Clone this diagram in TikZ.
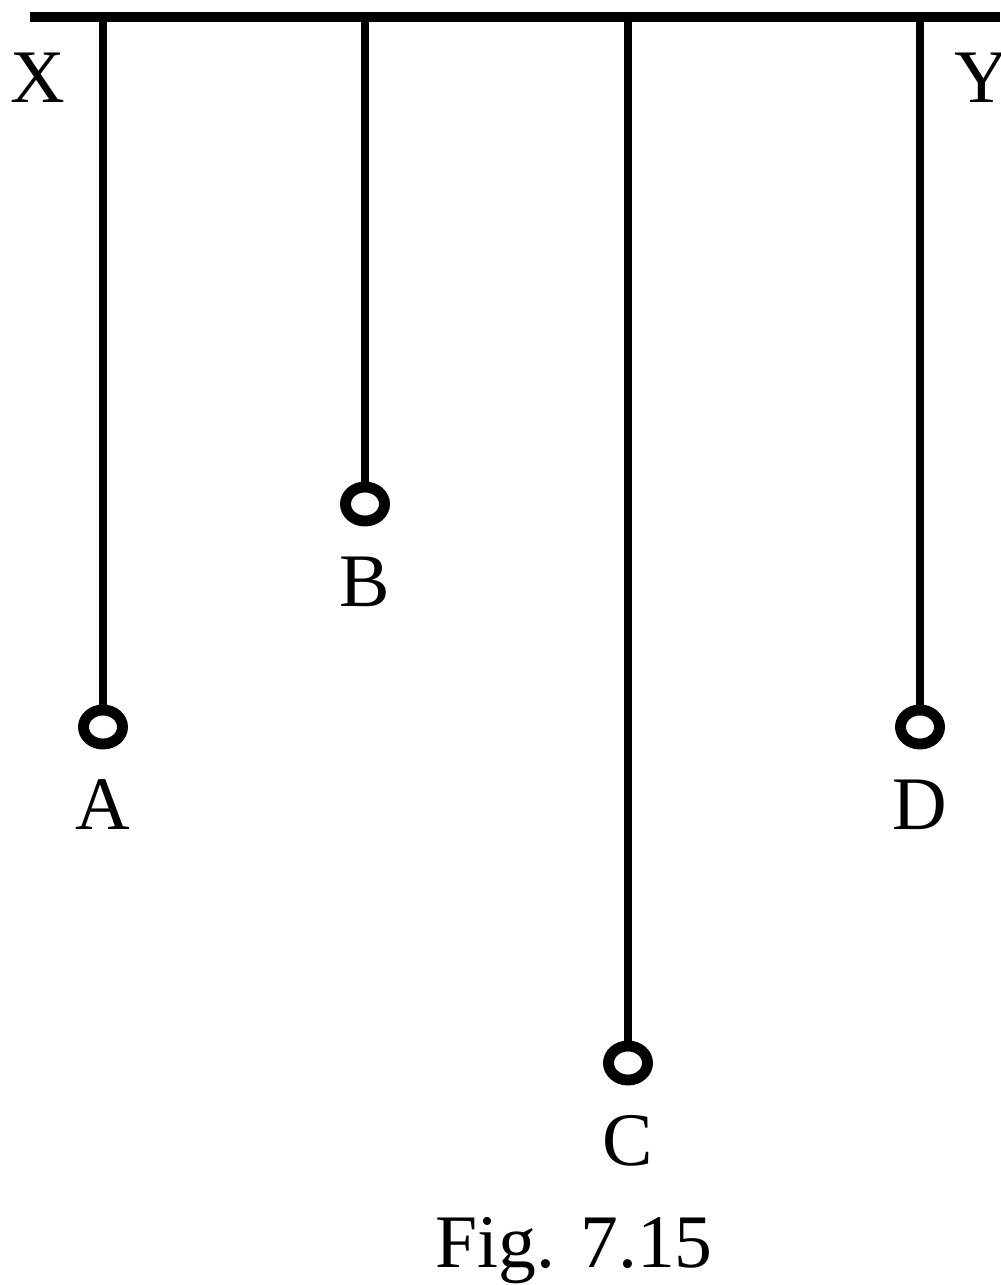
\documentclass[tikz,border=0pt]{standalone}
\usepackage{fontspec}
\setmainfont{Liberation Serif}
\usetikzlibrary{shapes.geometric,positioning}
\tikzset{
	bob/.style={ellipse, draw, line width=3.1pt, inner sep=0pt, minimum width=0.39cm, minimum height=0.34cm},
	string/.style={line width=2.3pt},
	lbl/.style={font=\fontsize{21.5}{26}\selectfont, inner sep=0pt}
}
\begin{document}
\begin{tikzpicture}[x=0.01cm,y=-0.01cm]
		\useasboundingbox (0,0) rectangle (1000,1285);
		\draw[line width=2.6pt] (30,17) coordinate (barL) -- (1000,17) coordinate (barR);
		\node[lbl] (X) at (38,78) {X};
		\node[lbl] (Y) at (982,78) {Y};
		\foreach \n/\x/\y in {A/103/727,B/365/504,C/628/1063,D/920/727}{
			\coordinate (top\n) at (\x,17);
			\node[bob] (bob\n) at (\x,\y) {};
			\draw[string] (top\n) -- (bob\n.north);
			\node[lbl] (lbl\n) at (\x,\y+78) {\n};
		}
		\node[lbl, anchor=base] (fig) at (574,1267) {Fig. 7.15};
	\end{tikzpicture}
\end{document}
